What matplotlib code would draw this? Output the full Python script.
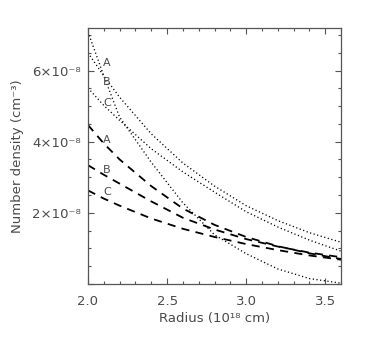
"""
Number density profiles vs radius: three dotted and three dashed models,
labelled A, B, C at the inner edge.
"""

import matplotlib
matplotlib.use("Agg")

import matplotlib.pyplot as plt
import numpy as np
from matplotlib.ticker import FuncFormatter, MultipleLocator

# --- data (radius in 1e18 cm, density in 1e-8 cm^-3) ---
radius = [2.0, 2.1, 2.2, 2.4, 2.6, 2.8, 3.0, 3.2, 3.4, 3.6]

dotted_steep = [7.09, 5.85, 4.69, 3.42, 2.28, 1.38, 0.85, 0.42, 0.15, 0.02]
dotted_upper = [6.50, 5.85, 5.25, 4.22, 3.40, 2.75, 2.20, 1.78, 1.44, 1.17]
dotted_lower = [5.51, 5.02, 4.60, 3.80, 3.15, 2.58, 2.03, 1.60, 1.23, 0.92]

dashed_a = [4.47, 3.95, 3.50, 2.75, 2.12, 1.66, 1.32, 1.06, 0.86, 0.70]
dashed_b = [3.34, 3.07, 2.82, 2.32, 1.86, 1.53, 1.26, 1.05, 0.88, 0.75]
dashed_c = [2.63, 2.40, 2.20, 1.84, 1.55, 1.32, 1.12, 0.95, 0.80, 0.68]

label_names = ["A", "B", "C"]
dotted_label_y = [6.22, 5.68, 5.09]
dashed_label_y = [4.05, 3.20, 2.58]
label_x = 2.12

SCALE = 1e-8
TEXT_COLOR = "#4a4a4a"

fig = plt.figure(figsize=(3.68, 3.40), dpi=100)
ax = fig.add_axes([0.239, 0.165, 0.688, 0.753])

r = np.array(radius)
for series in (dotted_steep, dotted_upper, dotted_lower):
    ax.plot(r, np.array(series) * SCALE, color="black", lw=0.95,
            linestyle=(0, (0.9, 1.9)))
for series in (dashed_a, dashed_b, dashed_c):
    ax.plot(r, np.array(series) * SCALE, color="black", lw=1.3,
            linestyle=(0, (4.5, 3.5)))

for name, yd, ye in zip(label_names, dotted_label_y, dashed_label_y):
    ax.text(label_x, yd * SCALE, name, color=TEXT_COLOR, fontsize=8,
            ha="center", va="center")
    ax.text(label_x, ye * SCALE, name, color=TEXT_COLOR, fontsize=8,
            ha="center", va="center")

ax.set_xlim(2.0, 3.6)
ax.set_ylim(0, 7.2e-8)

ax.xaxis.set_major_locator(MultipleLocator(0.5))
ax.xaxis.set_minor_locator(MultipleLocator(0.1))
ax.yaxis.set_major_locator(MultipleLocator(2e-8))
ax.yaxis.set_minor_locator(MultipleLocator(0.5e-8))

ax.xaxis.set_major_formatter(FuncFormatter(lambda v, _: f"{v:.1f}"))
ax.yaxis.set_major_formatter(
    FuncFormatter(lambda v, _: "" if v < 1e-9 else f"{v / SCALE:.0f}×10⁻⁸"))

ax.tick_params(which="both", direction="in", top=True, right=True,
               colors="#555555", labelcolor=TEXT_COLOR, labelsize=9.5,
               width=0.8)
ax.tick_params(which="major", length=4, pad=5)
ax.tick_params(axis="x", which="major", pad=8)
ax.tick_params(which="minor", length=2.5)

for spine in ax.spines.values():
    spine.set_color("#555555")
    spine.set_linewidth(0.9)

ax.set_xlabel("Radius (10¹⁸ cm)", color=TEXT_COLOR, fontsize=9.5, labelpad=3)
ax.set_ylabel("Number density (cm⁻³)", color=TEXT_COLOR, fontsize=9.5,
              labelpad=6)

fig.savefig("out.png", dpi=100)
